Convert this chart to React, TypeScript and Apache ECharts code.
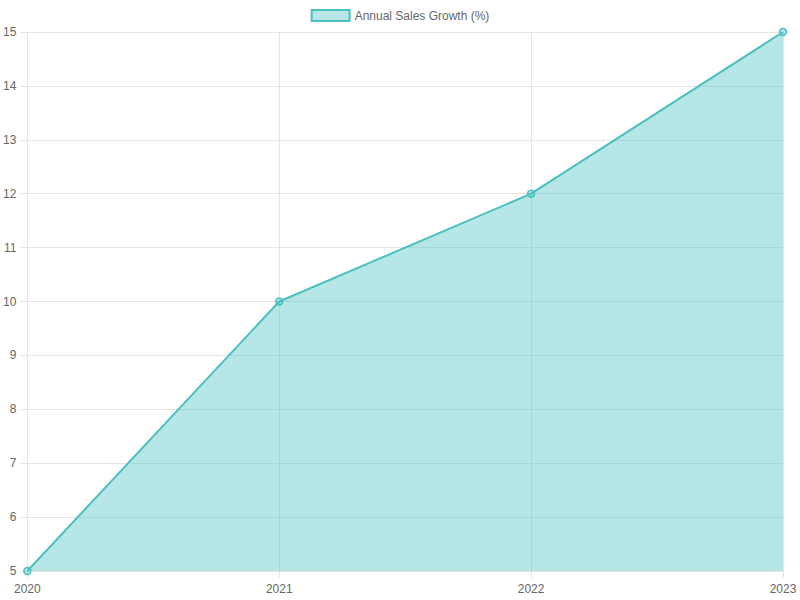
import { useEffect, useRef } from "react";
import * as echarts from "echarts";

const years = ["2020", "2021", "2022", "2023"];
const growth = [5, 10, 12, 15];
const seriesName = "Annual Sales Growth (%)";

export default function App() {
  const chartRef = useRef<HTMLDivElement>(null);

  useEffect(() => {
    if (!chartRef.current) return;
    const chart = echarts.init(chartRef.current, null, { renderer: "svg" });
    const teal = "rgb(75,192,192)";
    const fill = "rgba(75,192,192,0.4)";
    const font = "Liberation Sans, Arial, sans-serif";
    const option = {
      animation: false,
      textStyle: { fontFamily: font },
      legend: {
        top: 4,
        left: "center",
        icon: "rect",
        itemWidth: 38,
        itemHeight: 11,
        itemGap: 10,
        textStyle: { color: "#666", fontSize: 12, fontFamily: font },
        data: [
          {
            name: seriesName,
            itemStyle: { color: fill, borderColor: teal, borderWidth: 2 },
          },
        ],
      },
      grid: { left: 27, right: 17, top: 32, bottom: 29 },
      xAxis: {
        type: "category",
        data: years,
        boundaryGap: false,
        axisLine: { lineStyle: { color: "#e5e5e5" } },
        axisTick: { show: true, length: 7, alignWithLabel: true, lineStyle: { color: "#e5e5e5" } },
        axisLabel: { color: "#666", fontSize: 12, margin: 12, fontFamily: font },
        splitLine: { show: true, lineStyle: { color: "#e5e5e5" } },
      },
      yAxis: {
        type: "value",
        min: 5,
        max: 15,
        interval: 1,
        axisLine: { show: true, lineStyle: { color: "#e5e5e5" } },
        axisTick: { show: true, length: 7, lineStyle: { color: "#e5e5e5" } },
        axisLabel: { color: "#666", fontSize: 12, margin: 11, fontFamily: font },
        splitLine: { show: true, lineStyle: { color: "#e5e5e5" } },
      },
      series: [
        {
          name: seriesName,
          type: "line",
          data: growth,
          symbol: "circle",
          symbolSize: 7,
          itemStyle: { color: fill, borderColor: teal, borderWidth: 1.5 },
          lineStyle: { color: teal, width: 2 },
          areaStyle: { color: fill, opacity: 1 },
        },
      ],
    };
    chart.setOption(option);
    return () => {
      chart.dispose();
    };
  }, []);

  return (
    <div
      ref={chartRef}
      style={{ position: "absolute", left: 0, top: 0, width: "800px", height: "600px" }}
    ></div>
  );
}
